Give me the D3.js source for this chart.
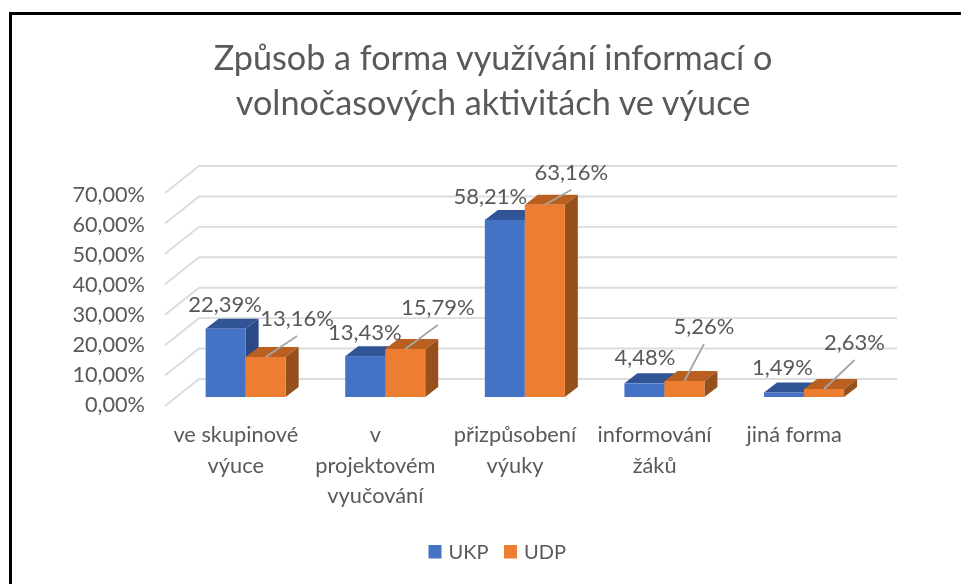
<!DOCTYPE html>
<html><head><meta charset="utf-8">
<script src="https://cdnjs.cloudflare.com/ajax/libs/d3/7.8.5/d3.min.js"></script>
<style>
html,body{margin:0;padding:0;background:#fff}
svg{display:block}
text{font-family:"Lato","Open Sans",sans-serif;fill:#595959}
#chart{filter:blur(0.35px)}
</style></head><body>
<svg id="c" width="961" height="584"></svg>
<script>
const titleLines = ["Způsob a forma využívání informací o", "volnočasových aktivitách ve výuce"];
const categories = ["ve skupinové výuce", "v projektovém vyučování", "přizpůsobení výuky", "informování žáků", "jiná forma"];
const categoryLines = [["ve skupinové","výuce"],["v","projektovém","vyučování"],["přizpůsobení","výuky"],["informování","žáků"],["jiná forma"]];
const seriesNames = ["UKP", "UDP"];
const ukp = [22.39, 13.43, 58.21, 4.48, 1.49];
const udp = [13.16, 15.79, 63.16, 5.26, 2.63];
const ticks = [0, 10, 20, 30, 40, 50, 60, 70];
// label placement (offset from the bar's top), layout only
const labelOffsetsUkp = [[-7,-18],[-7,-17],[-21,-17],[-6,-19],[-8,-18]];
const labelOffsetsUdp = [[25,-32],[26,-35],[20,-26],[13,-48],[24,-40]];

const colors = {UKP:{front:"#4472c4",top:"#315496",side:"#2a4a86"},UDP:{front:"#ed7d31",top:"#b95f1f",side:"#96501c"}};
const svg = d3.select("#c");
const fmt = v => v.toFixed(2).replace(".", ",") + "%";

// frame
svg.append("path").attr("d","M10.5 584V13.5H961").attr("fill","none").attr("stroke","#000").attr("stroke-width",3);
const chart = svg.append("g").attr("id","chart");

// title
chart.append("g").selectAll("text").data(titleLines).join("text")
  .attr("x",493).attr("y",(d,i)=>70+i*44.5).attr("text-anchor","middle")
  .attr("font-size",34.2).text(d=>d);

// scales
const y = d3.scaleLinear().domain([0,70]).range([379,166]);
const yLabel = d3.scaleLinear().domain([0,70]).range([411.5,201.5]);
const depth = {dx:34, dy:27};
const band = d3.scaleBand().domain(categories).range([199,897]);
const barInset = 9/27;
const barDepth = {dx:13, dy:10};
const barW = 40;
const baseX = c => band(c) - depth.dx*(1-barInset) + band.bandwidth()/2 - barW - 0.5;
const baseY = v => y(v) + depth.dy*(1-barInset);

// gridlines
const gridG = chart.append("g").attr("fill","none").attr("stroke","#dcdcdc").attr("stroke-width",1.9);
ticks.forEach(t=>{
  gridG.append("path").attr("d",`M${band.range()[0]-depth.dx} ${y(t)+depth.dy}L${band.range()[0]} ${y(t)}H${band.range()[1]}`);
});
// axis labels
chart.append("g").selectAll("text").data(ticks).join("text")
  .attr("x",145).attr("y",t=>yLabel(t)).attr("text-anchor","end").attr("font-size",21.7)
  .text(t=>t.toFixed(2).replace(".",",")+"%");

function bar(g,x,v,c){
  const y0=baseY(0), y1=baseY(v), d=barDepth;
  g.append("path").attr("fill",c.top).attr("d",`M${x} ${y1}l${d.dx} ${-d.dy}h${barW}l${-d.dx} ${d.dy}z`);
  g.append("path").attr("fill",c.side).attr("d",`M${x+barW} ${y1}l${d.dx} ${-d.dy}V${y0-d.dy}l${-d.dx} ${d.dy}z`);
  g.append("rect").attr("fill",c.front).attr("x",x).attr("y",y1).attr("width",barW).attr("height",y0-y1);
}
const bars = chart.append("g");
categories.forEach((c,i)=>{
  const x = baseX(c);
  bar(bars,x,ukp[i],colors.UKP);
  bar(bars,x+barW,udp[i],colors.UDP);
});

// leader lines and data labels
const labels = chart.append("g");
categories.forEach((c,i)=>{
  const x = baseX(c);
  const topA = baseY(ukp[i]), topB = baseY(udp[i]);
  const ax = x+barW/2+barDepth.dx/2, bx = x+barW*1.5+barDepth.dx/2;
  const [ox,oy] = labelOffsetsUdp[i];
  labels.append("line").attr("x1",x+barW*1.5).attr("y1",topB).attr("x2",bx+ox).attr("y2",topB+oy+11)
    .attr("stroke","#a6a6a6").attr("stroke-width",1.8);
  const [ax2,ay2] = labelOffsetsUkp[i];
  labels.append("text").attr("x",ax+ax2).attr("y",topA+ay2+1).attr("text-anchor","middle").attr("font-size",22).text(fmt(ukp[i]));
  labels.append("text").attr("x",bx+ox).attr("y",topB+oy+1).attr("text-anchor","middle").attr("font-size",22).text(fmt(udp[i]));
});

// category labels
categories.forEach((c,i)=>{
  chart.append("g").selectAll("text").data(categoryLines[i]).join("text")
    .attr("x",band(c)-depth.dx+band.bandwidth()/2+1).attr("y",(d,j)=>442+j*30.5)
    .attr("text-anchor","middle").attr("font-size",21.8).text(d=>d);
});

// legend
const legendX = d3.scaleOrdinal().domain(seriesNames).range([428.5,504]);
const leg = chart.append("g");
seriesNames.forEach(n=>{
  leg.append("rect").attr("x",legendX(n)).attr("y",545).attr("width",13).attr("height",13.5).attr("fill",colors[n].front);
  leg.append("text").attr("x",legendX(n)+20).attr("y",558.5).attr("font-size",20).text(n);
});
</script></body></html>
